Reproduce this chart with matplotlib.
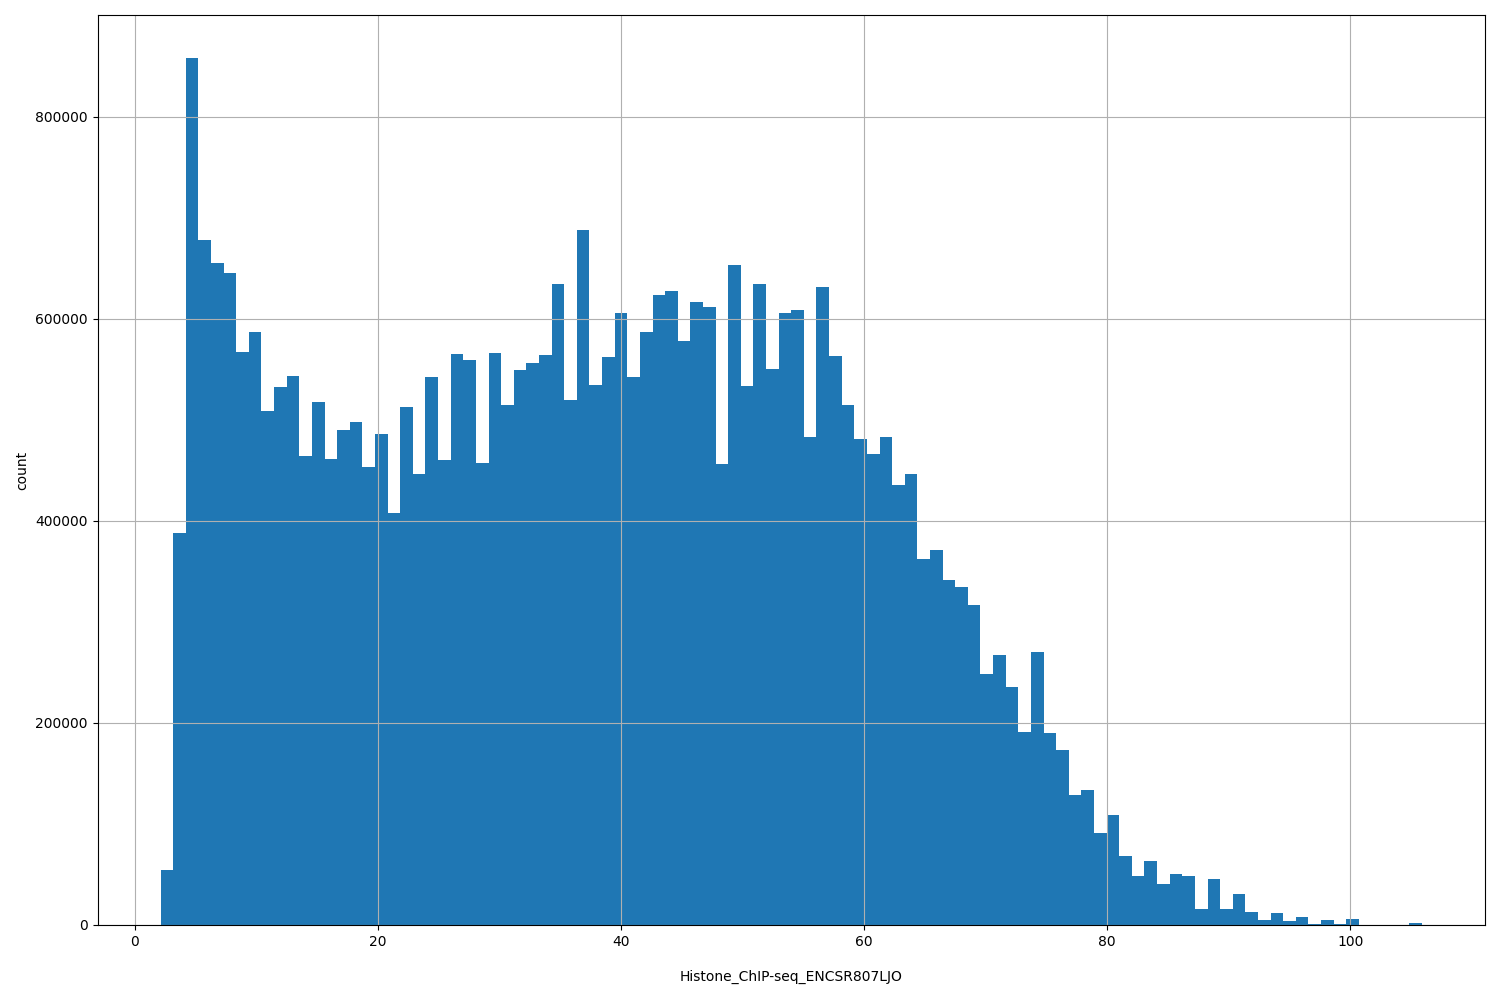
import numpy as np
import matplotlib
matplotlib.use("Agg")
import matplotlib.pyplot as plt

# histogram of one column, 100 bins, counts
col_name = "Histone_ChIP-seq_ENCSR807LJO"
lo, hi = 2.14, 105.9
counts = [
    54500, 388000, 858000, 678000, 655000, 645000, 567000, 587000, 509000, 533000,
    544000, 464000, 518000, 461000, 490000, 498000, 453000, 486000, 408000, 513000,
    446000, 543000, 460000, 565000, 559000, 457000, 566000, 515000, 549000, 556000,
    564000, 635000, 520000, 688000, 535000, 562000, 606000, 543000, 587000, 624000,
    628000, 578000, 617000, 612000, 456000, 653000, 534000, 635000, 550000, 606000,
    609000, 483000, 632000, 563000, 515000, 481000, 466000, 483000, 436000, 446000,
    362000, 371000, 342000, 335000, 317000, 248000, 267000, 236000, 191000, 270000,
    190000, 173000, 129000, 134000, 91000, 109000, 68000, 48500, 63000, 40600,
    50500, 48500, 16000, 45500, 16000, 30700, 13000, 5000, 12000, 4000,
    8000, 1000, 5000, 1000, 6000, 0, 0, 0, 0, 1500,
]

edges = np.linspace(lo, hi, len(counts) + 1)
centers = (edges[:-1] + edges[1:]) / 2

fig, ax = plt.subplots(figsize=(15, 10), dpi=100)
fig.subplots_adjust(left=0.065, right=0.99, top=0.985, bottom=0.075)

ax.hist(centers, bins=edges, weights=counts, color="#1f77b4")
ax.grid(True)
ax.set_xlabel(col_name, labelpad=15)
ax.set_ylabel("count")

fig.savefig("out.png")
